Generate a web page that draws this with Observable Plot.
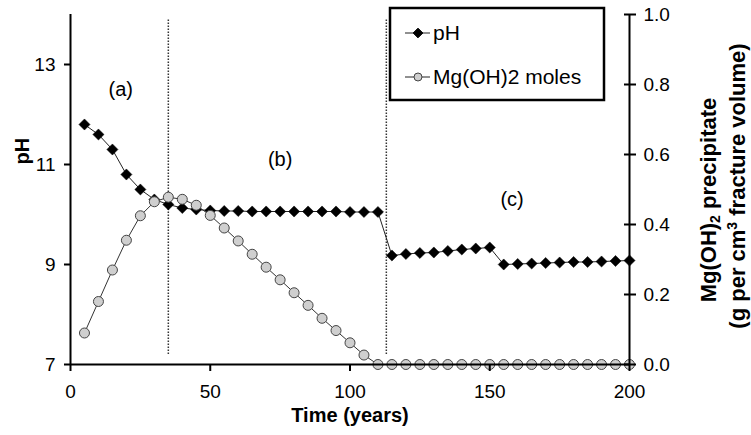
<!DOCTYPE html>
<html><head><meta charset="utf-8">
<script src="https://cdn.jsdelivr.net/npm/d3@7"></script>
<script src="https://cdn.jsdelivr.net/npm/@observablehq/plot@0.6"></script>
<style>
body{margin:0;background:#fff;}
#chart{position:relative;width:751px;height:435px;}
</style></head><body><div id="chart"></div>
<script>
// ---- data ----
const years = [5,10,15,20,25,30,35,40,45,50,55,60,65,70,75,80,85,90,95,100,105,110,115,120,125,130,135,140,145,150,155,160,165,170,175,180,185,190,195,200];
const pHValues = [11.8,11.6,11.3,10.8,10.5,10.3,10.2,10.13,10.1,10.08,10.07,10.07,10.06,10.06,10.06,10.06,10.06,10.06,10.06,10.05,10.05,10.05,9.18,9.21,9.23,9.24,9.27,9.3,9.32,9.34,9.0,9.01,9.02,9.03,9.04,9.05,9.05,9.06,9.07,9.08];
const mgValues = [0.09,0.18,0.27,0.355,0.425,0.465,0.478,0.472,0.455,0.426,0.39,0.353,0.315,0.278,0.242,0.205,0.169,0.132,0.097,0.062,0.027,0,0,0,0,0,0,0,0,0,0,0,0,0,0,0,0,0,0,0];
const pHTicks = [7,9,11,13];
const mgTicks = [0,0.2,0.4,0.6,0.8,1.0];
const timeTicks = [0,50,100,150,200];
const boundaries = [35,113];
const regionLabels = ["(a)","(b)","(c)"];
const regionTime = [18,75,158];
const regionPH = [12.5,11.1,10.3];

// pH axis 7..14 shares the frame with Mg 0..1
const mgToPH = v => 7 + v * 7;
const rows = years.map((t,i) => ({t, pH: pHValues[i], mg: mgValues[i]}));
const regions = regionLabels.map((s,i) => ({s, t: regionTime[i], pH: regionPH[i]}));
const font = "Liberation Sans, Arial, Helvetica, sans-serif";

const chart = Plot.plot({
  width: 751, height: 435,
  marginLeft: 70, marginRight: 122, marginTop: 14, marginBottom: 71,
  style: {fontFamily: font, fontSize: "19px", background: "white", color: "black", overflow: "visible"},
  x: {domain: [0,200]},
  y: {domain: [7,14]},
  marks: [
    Plot.ruleX(boundaries, {y1: 7.2, y2: 13.9, stroke: "#333", strokeWidth: 1.5, strokeDasharray: "1.5,1.5"}),
    Plot.line(rows, {x: "t", y: "pH", stroke: "#222", strokeWidth: 1}),
    Plot.dot(rows, {x: "t", y: "pH", symbol: "diamond2", r: 5, fill: "black", stroke: "black", strokeWidth: 0.5}),
    Plot.line(rows, {x: "t", y: d => mgToPH(d.mg), stroke: "#333", strokeWidth: 1}),
    Plot.dot(rows, {x: "t", y: d => mgToPH(d.mg), symbol: "circle", r: 5, fill: "#cfcfcf", stroke: "#444", strokeWidth: 1}),
    Plot.ruleX([0], {stroke: "black", strokeWidth: 2}),
    Plot.ruleX([200], {stroke: "black", strokeWidth: 2}),
    Plot.ruleY([7], {stroke: "black", strokeWidth: 2}),
    Plot.axisY({ticks: pHTicks, tickFormat: d => String(d), tickSize: 6, tickPadding: 9, strokeWidth: 2, label: null, fontSize: 19}),
    Plot.axisY({anchor: "right", ticks: mgTicks.map(mgToPH), tickFormat: d => ((d - 7) / 7).toFixed(1), tickSize: 12, dx: -6, tickPadding: 8, strokeWidth: 2, label: null, fontSize: 19}),
    Plot.axisX({ticks: timeTicks, tickFormat: d => String(d), tickSize: 7, tickPadding: 13, strokeWidth: 2, label: null, fontSize: 19}),
    Plot.text(["Time (years)"], {frameAnchor: "bottom", dy: 57, fontWeight: "bold", fontSize: 20}),
    Plot.text(["pH"], {y: () => 11, frameAnchor: "left", dx: -48, rotate: -90, fontWeight: "bold", fontSize: 20}),
    Plot.text(regions, {x: "t", y: "pH", text: "s", fontSize: 20})
  ]
});
document.getElementById("chart").appendChild(chart);

const svg = d3.select(chart);
// right axis title (two lines, with sub/superscripts)
const tg = svg.append("g").attr("font-family", font).attr("font-weight", "bold").attr("font-size", 22).attr("text-anchor", "middle").attr("fill", "black");
const l1 = tg.append("text").attr("transform", "translate(708,200) rotate(-90)").attr("dy", "0.35em");
l1.append("tspan").text("Mg(OH)");
l1.append("tspan").attr("font-size", 14).attr("dy", 4).text("2");
l1.append("tspan").attr("dy", -4).text(" precipitate");
const l2 = tg.append("text").attr("transform", "translate(737,186) rotate(-90)").attr("dy", "0.35em");
l2.append("tspan").text("(g per cm");
l2.append("tspan").attr("font-size", 14).attr("dy", -8).text("3");
l2.append("tspan").attr("dy", 8).text(" fracture volume)");

// legend
const lg = svg.append("g").attr("font-family", font).attr("font-size", 21).attr("text-anchor", "start");
lg.append("rect").attr("x", 390).attr("y", 8).attr("width", 214).attr("height", 92).attr("fill", "white").attr("stroke", "black").attr("stroke-width", 2.5);
const entries = [
  {label: "pH", y: 33, sym: d3.symbolDiamond2, size: 60, fill: "black", stroke: "black"},
  {label: "Mg(OH)2 moles", y: 77, sym: d3.symbolCircle, size: 50, fill: "#cfcfcf", stroke: "#444"}
];
for (const e of entries) {
  lg.append("line").attr("x1", 405).attr("x2", 430).attr("y1", e.y).attr("y2", e.y).attr("stroke", "#222");
  lg.append("path").attr("d", d3.symbol(e.sym, e.size)()).attr("transform", `translate(418,${e.y})`).attr("fill", e.fill).attr("stroke", e.stroke);
  lg.append("text").attr("x", 433).attr("y", e.y).attr("dy", "0.35em").text(e.label);
}
</script></body></html>
